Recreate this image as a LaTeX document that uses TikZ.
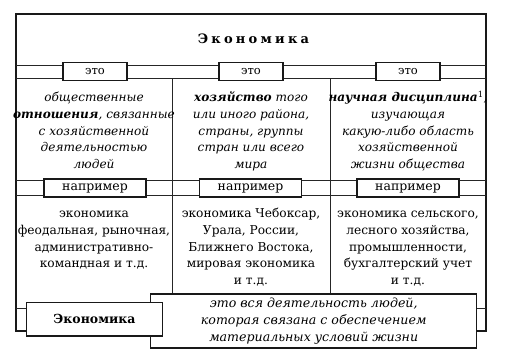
\documentclass[tikz,border=0pt]{standalone}
\usepackage{fontspec}
\setmainfont{DejaVu Serif}
\begin{document}
\begin{tikzpicture}[x=1pt,y=-1pt,
  thinline/.style={line width=0.8pt, draw=black!85},
  frame/.style={line width=1.4pt, draw=black!90},
  lbl/.style={draw=black!90, line width=1.3pt, fill=white, inner sep=0pt},
  body/.style={align=center, inner sep=0pt, anchor=north, font=\fontsize{12.2}{16.7}\selectfont},
  itbody/.style={body, font=\fontsize{12.1}{16.7}\selectfont\itshape}
]
\useasboundingbox (0,0) rectangle (505,356);
% frame and bands
\draw[frame] (16,14) rectangle (486,331);
\draw[thinline] (16,65) -- (486,65) (16,78) -- (486,78);
\draw[thinline] (16,180) -- (486,180) (16,195) -- (486,195);
\draw[thinline] (172,78) -- (172,294) (330,78) -- (330,294);
\draw[thinline] (16,308) -- (486,308);
% title
\node[font=\fontsize{13}{15}\selectfont\bfseries\addfontfeature{LetterSpace=25}] (title) at (253.5,39) {Экономика};
% это boxes
\node[lbl, minimum width=64pt, minimum height=18.5pt, font=\fontsize{11.5}{13}\selectfont] (eto1) at (95,71.5) {это};
\node[lbl, minimum width=64pt, minimum height=18.5pt, font=\fontsize{11.5}{13}\selectfont] (eto2) at (251,71.5) {это};
\node[lbl, minimum width=64pt, minimum height=18.5pt, font=\fontsize{11.5}{13}\selectfont] (eto3) at (408,71.5) {это};
% upper texts
\node[itbody] (d1) at (94,90) {\strut общественные\\\textbf{отношения}, связанные\\с хозяйственной\\деятельностью\\людей};
\node[itbody] (d2) at (251,90) {\strut\textbf{хозяйство} того\\или иного района,\\страны, группы\\стран или всего\\мира};
\node[itbody] (d3) at (408,90) {\strut\textbf{научная дисциплина}\textsuperscript{\upshape\mdseries 1},\\изучающая\\какую-либо область\\хозяйственной\\жизни общества};
% например boxes
\node[lbl, minimum width=102pt, minimum height=18pt, font=\fontsize{12.5}{14}\selectfont] (ex1) at (95,188) {например};
\node[lbl, minimum width=102pt, minimum height=18pt, font=\fontsize{12.5}{14}\selectfont] (ex2) at (250.5,188) {например};
\node[lbl, minimum width=102pt, minimum height=18pt, font=\fontsize{12.5}{14}\selectfont] (ex3) at (408,188) {например};
% lower texts
\node[body] (e1) at (94,206) {\strut экономика\\феодальная, рыночная,\\административно-\\командная и т.д.};
\node[body] (e2) at (251,206) {\strut экономика Чебоксар,\\Урала, России,\\Ближнего Востока,\\мировая экономика\\и т.д.};
\node[body] (e3) at (408,206) {\strut экономика сельского,\\лесного хозяйства,\\промышленности,\\бухгалтерский учет\\и т.д.};
% bottom
\node[lbl, minimum width=326pt, minimum height=54pt, align=center, font=\fontsize{12.6}{16.7}\selectfont\itshape] (def) at (313.7,321) {это вся деятельность людей,\\которая связана с обеспечением\\материальных условий жизни};
\node[lbl, minimum width=135.6pt, minimum height=33.3pt, font=\fontsize{12.5}{14}\selectfont\bfseries] (econ) at (94.5,319.3) {Экономика};
\end{tikzpicture}
\end{document}
